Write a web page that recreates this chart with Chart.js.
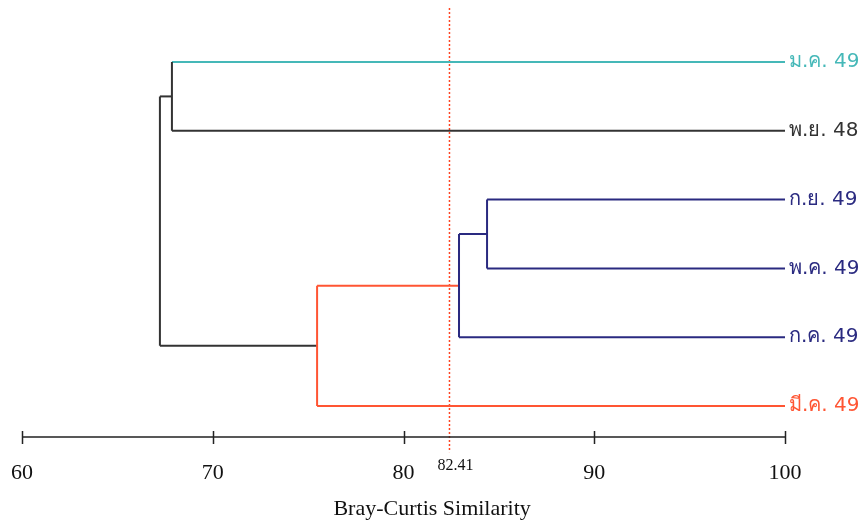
<!DOCTYPE html>
<html>
<head>
<meta charset="utf-8">
<script src="https://cdn.jsdelivr.net/npm/chart.js@4/dist/chart.umd.min.js"></script>
<style>
  body { margin: 0; background: #fff; }
  canvas { display: block; }
</style>
</head>
<body>
<canvas id="chart" width="865" height="524"></canvas>
<script>
// leaves, top to bottom
const leafNames = ["ม.ค. 49", "พ.ย. 48", "ก.ย. 49", "พ.ค. 49", "ก.ค. 49", "มี.ค. 49"];
const leafColors = ["#45b8b8", "#333333", "#2a2a80", "#2a2a80", "#2a2a80", "#ff5533"];

// merges: children are leaf index (>=0) or merge index as "m0", "m1" ...
const mergeLeft = [0, 2, "m1", "m2", "m0"];
const mergeRight = [1, 3, 4, 5, "m3"];
const mergeLevel = [67.86, 84.38, 82.91, 75.47, 67.23];
const mergeColors = ["#333333", "#2a2a80", "#2a2a80", "#ff5533", "#333333"];

// x axis
const xTicks = [60, 70, 80, 90, 100];
const cutLevel = 82.41;
const xTitle = "Bray-Curtis Similarity";

function nodeInfo(c) {
  if (typeof c === "number") return { x: 100, y: c, color: leafColors[c] };
  const i = parseInt(c.slice(1));
  return { x: mergeLevel[i], y: nodeY(i), color: mergeColors[i] };
}
function nodeY(i) {
  return (nodeInfo(mergeLeft[i]).y + nodeInfo(mergeRight[i]).y) / 2;
}

const datasets = [];
function seg(a, b, color) {
  datasets.push({
    data: [a, b], borderColor: color, borderWidth: 2,
    pointRadius: 0, showLine: true, fill: false
  });
}

mergeLevel.forEach((lvl, i) => {
  const L = nodeInfo(mergeLeft[i]);
  const R = nodeInfo(mergeRight[i]);
  // vertical
  seg({ x: lvl, y: L.y }, { x: lvl, y: R.y }, mergeColors[i]);
  // horizontals: leaves keep their own colour, inner branches take the parent's
  [[mergeLeft[i], L], [mergeRight[i], R]].forEach(([c, n]) => {
    const col = typeof c === "number" ? n.color : mergeColors[i];
    seg({ x: lvl, y: n.y }, { x: n.x, y: n.y }, col);
  });
});

// cut-off line
datasets.push({
  data: [{ x: cutLevel, y: -0.785 }, { x: cutLevel, y: 5.67 }],
  borderColor: "#ff4422", borderWidth: 1.5, borderDash: [2, 2],
  pointRadius: 0, showLine: true, clip: false
});

const decor = {
  id: "decor",
  afterDraw(chart) {
    const ctx = chart.ctx;
    const xs = chart.scales.x, ys = chart.scales.y;
    const yAxis = chart.chartArea.bottom;
    ctx.save();
    // axis line + ticks
    ctx.strokeStyle = "#222";
    ctx.lineWidth = 1.5;
    ctx.beginPath();
    ctx.moveTo(xs.getPixelForValue(60), yAxis);
    ctx.lineTo(xs.getPixelForValue(100), yAxis);
    xTicks.forEach(t => {
      const px = Math.round(xs.getPixelForValue(t)) + 0.5;
      ctx.moveTo(px, yAxis - 6);
      ctx.lineTo(px, yAxis + 7);
    });
    ctx.stroke();
    ctx.fillStyle = "#111";
    ctx.textAlign = "center";
    ctx.textBaseline = "middle";
    // cut label
    ctx.font = "16px 'Liberation Serif'";
    ctx.fillText(String(cutLevel), xs.getPixelForValue(cutLevel) + 6, yAxis + 29);
    // axis title
    ctx.font = "22px 'Liberation Serif'";
    ctx.fillText(xTitle, xs.getPixelForValue(81.5), 509);
    // leaf labels
    ctx.font = "20px 'DejaVu Sans', 'Noto Sans', sans-serif";
    ctx.textAlign = "left";
    leafNames.forEach((n, i) => {
      ctx.fillStyle = leafColors[i];
      ctx.fillText(n, xs.getPixelForValue(100) + 4, ys.getPixelForValue(i));
    });
    ctx.restore();
  }
};

new Chart(document.getElementById("chart"), {
  type: "scatter",
  data: { datasets },
  plugins: [decor],
  options: {
    responsive: false,
    animation: false,
    layout: { padding: { left: 22, right: 80, top: 10, bottom: 0 } },
    plugins: { legend: { display: false }, tooltip: { enabled: false } },
    scales: {
      x: {
        type: "linear", min: 60, max: 100,
        afterBuildTicks: s => { s.ticks = xTicks.map(v => ({ value: v })); },
        afterFit: s => { s.height = 87; s.paddingLeft = 0; s.paddingRight = 0; },
        grid: { display: false },
        border: { display: false },
        ticks: { color: "#111", font: { family: "Liberation Serif", size: 22 }, padding: 15, maxRotation: 0 },
        title: { display: false }
      },
      y: {
        display: false, reverse: true, min: -0.756, max: 5.45
      }
    }
  }
});
</script>
</body>
</html>
